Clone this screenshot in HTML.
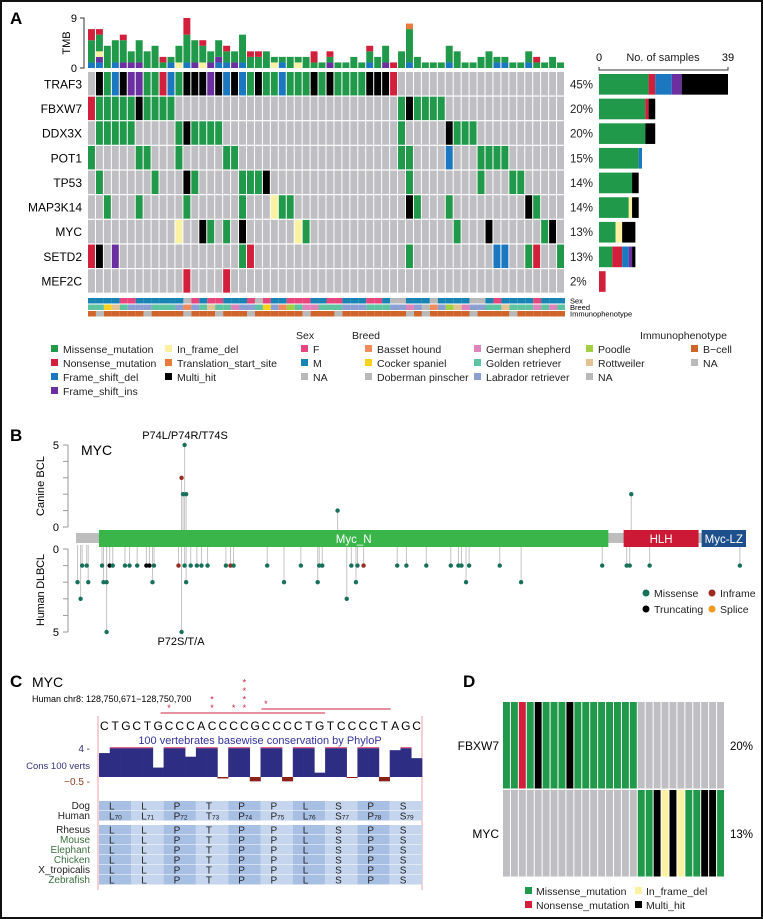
<!DOCTYPE html>
<html><head><meta charset="utf-8"><title>Canine BCL mutations</title>
<style>
html,body{margin:0;padding:0;background:#fff;}
svg{display:block;font-family:"Liberation Sans",Arial,sans-serif;}
</style></head>
<body>
<svg id="fig" width="763" height="919" viewBox="0 0 763 919">
<rect x="1" y="1" width="761" height="917" fill="#fff" stroke="#111" stroke-width="2"/>
<g id="pA">
<text x="10" y="24" font-size="17" font-weight="bold">A</text>
<text x="70" y="43" font-size="11" transform="rotate(-90 70 43)" text-anchor="middle">TMB</text>
<text x="98" y="0" font-size="0"></text>
<text x="663" y="61" font-size="11" text-anchor="middle" fill="#222">No. of samples</text>
</g>
<g id="pB">
<text x="10" y="441" font-size="17" font-weight="bold">B</text>
<text x="81" y="455" font-size="14">MYC</text>
<text x="185" y="439" font-size="11" text-anchor="middle">P74L/P74R/T74S</text>
<text x="181" y="645" font-size="11" text-anchor="middle">P72S/T/A</text>
<text x="44" y="486" font-size="11" text-anchor="middle" transform="rotate(-90 44 486)" textLength="60">Canine BCL</text>
<text x="44" y="590" font-size="11" text-anchor="middle" transform="rotate(-90 44 590)" textLength="72">Human DLBCL</text>
</g>
<g id="pC">
<text x="10" y="687" font-size="17" font-weight="bold">C</text>
<text x="32" y="687" font-size="14">MYC</text>
<text x="32" y="702" font-size="9">Human chr8: 128,750,671−128,750,700</text>
<text x="260" y="744" font-size="11" fill="#33339a" text-anchor="middle">100 vertebrates basewise conservation by PhyloP</text>
<text x="90" y="752" font-size="10" fill="#33337a" text-anchor="end">4 -</text>
<text x="90" y="769" font-size="9.5" fill="#33337a" text-anchor="end">Cons 100 verts</text>
<text x="90" y="785" font-size="10" fill="#8a4020" text-anchor="end">−0.5 -</text>
</g>
<g id="pD">
<text x="463" y="687" font-size="17" font-weight="bold">D</text>
</g>
</svg>
<script>
// ---------- Panel A data ----------
const genes = ["TRAF3","FBXW7","DDX3X","POT1","TP53","MAP3K14","MYC","SETD2","MEF2C"];
const genePct = ["45%","20%","20%","15%","14%","14%","13%","13%","2%"];
const geneAlts = [
 "0x 1x 2m 3d 4x 5i 6i 7m 8m 9n 10d 11m 12x 13x 14x 15i 16x 17d 18x 19d 20m 21x 22m 23m 24d 25m 26m 27m 28x 29m 30x 31m 32m 33m 34m 35x 36x 37x 38n",
 "0n 1m 2m 3m 4m 5m 6x 7m 8m 9m 10m 39m 40x 41m 42m 43m 44m",
 "0x 1m 2m 3m 4m 5m 11m 12x 13m 14m 15m 16m 39m 45x 46m 47m 48m",
 "0m 6m 7m 11m 17m 18m 39m 40m 45d 49m 50m 51m 52m",
 "1m 8m 12x 13m 19m 20m 21m 22x 40m 49m 53m 54m",
 "2m 6m 12m 19m 23f 24m 25m 40x 41m 45m 55x 56m",
 "11f 14x 15m 17m 19x 26f 27m 46m 50x 57m 58x",
 "0n 1x 3i 19m 20n 40m 51d 52d 55m 56n 59m",
 "12n 17n"
];
const tmbCols = ["dmmmmnn","difmmmn","mmmm","dmmmm","immmmn","imm","immmm","mmm","mmmm","mn","dm","fmmm","dmmmmmnnn","immmm","fmmmn","imm","dimmm","dmmn","imm","dmmmmm","mmn","mmn","mmm","fm","dm","mm","fm","mm","mnn","m","imn","m","m","mm","m","dmmn","mm","immm","n","mmm","dmmmmmmt","mm","m","m","m","dmmm","mmm","m","m","mm","mmm","dm","dm","m","m","dmm","mn","m","mm","m"];
const sexRow   = "MMMMFFMMMMMMNFMFFMMMFNFMMFFFMMFFMMMFFMNNMMMNMMMMNNMFMMMMFMMM";
const breedRow = "RRCTRLLLRRRLBLRTRRGLLRCLBPRGGRRRLLLRRRLLGLNBLPTGLLRRTRRRGRGR";
const immRow   = "BNBBBBBNBBBBNBBBNBBBNBBBBBBNBBBNBBBBBBBBNBNBBBBBNBBBBNBBBBBB";
const tmbTicks = [0,9];
const barTicks = [0,39];

// ---------- Panel B data ----------
const protLen = 439;
const domNames = ["Myc_N","HLH","Myc-LZ"];
const domStart = [16,359,410];
const domEnd = [349,408,439];
const canPos = [72,70,71,73,172,364];
const canVal = [5,3,2,2,1,2];
const canType = ["M","I","M","M","M","M"];
const humPos = [5,8,18,23,25,33,36,41,47,49,52,68,72,76,80,83,87,99,102,104,126,148,160,162,181,185,189,211,217,230,246,251,253,258,278,345,361,363,376,435,
 2,9,19,21,51,73,137,159,184,256,292, 4,178, 21,70];
const humVal = [1,1,1,1,1,1,1,1,1,1,1,1,1,1,1,1,1,1,1,1,1,1,1,1,1,1,1,1,1,1,1,1,1,1,1,1,1,1,1,1,
 2,2,2,2,2,2,2,2,2,2,2, 3,3, 5,5];
const humType = ["M","M","M","T","M","M","M","M","T","T","M","I","M","M","M","M","M","M","I","M","M","M","M","M","M","M","I","M","M","M","M","M","M","M","M","M","M","M","M","M",
 "M","M","M","M","M","M","M","M","M","M","M", "M","M", "M","M"];
const canTicks = [0,1,2,3,4,5];
const humTicks = [0,1,2,3,4,5];

// ---------- Panel C data ----------
const seq = "CTGCTGCCCACCCCGCCCCTGTCCCCTAGC";
const phylop = [3.3,4,4,4,4,1.3,4,4,2.8,4,4,-0.2,4,4,-0.6,4,4,-0.6,4,4,0.6,4,4,-0.1,4,4,-0.6,3.7,4,2.6];
const starBase = [6,10,12,13];
const starCount = [1,2,1,4];
const star2Base = [15];
const star2Count = [1];
const dogAA = ["L","L","P","T","P","P","L","S","P","S"];
const humAA = ["L","L","P","T","P","P","L","S","P","S"];
const humNum = [70,71,72,73,74,75,76,77,78,79];
const species = ["Rhesus","Mouse","Elephant","Chicken","X_tropicalis","Zebrafish"];

// ---------- Panel D data ----------
const dGenes = ["FBXW7","MYC"];
const dPct = ["20%","13%"];
const dAlts = ["mmnmxmmmxmmmmmmmm...........", ".................mmxfxfmmxxm"];

// ---------- helpers ----------
const NS="http://www.w3.org/2000/svg";
const svg=document.getElementById('fig');
function mk(tag,at,parent){const e=document.createElementNS(NS,tag);for(const k in at)e.setAttribute(k,at[k]);(parent||svg).appendChild(e);return e;}
function tx(str,at,parent){const e=mk('text',at,parent);e.textContent=str;return e;}
const COL={m:"#21994a",n:"#d11f3c",d:"#1a77c0",i:"#6c2fa0",f:"#faf2a2",t:"#ea7a3a",x:"#000000"};
const GRAY="#bfbfc3";
const SEX={M:"#1884b4",F:"#e6467c",N:"#b9b9b9"};
const BREED={B:"#f08c5c",C:"#f7d21e",D:"#b9b9b9",G:"#df84bb",R:"#5ec3a1",L:"#8b9fd2",P:"#a3cf43",T:"#e2c295",N:"#b9b9b9"};
const IMM={B:"#d0652b",N:"#b9b9b9"};

// ---------- Panel A ----------
const gA=document.getElementById('pA');
const nCol=60, x0=88, cw=(565-88)/nCol, y0=72, rh=24.65;
const colX=c=>x0+c*cw;
const rowY=r=>y0+r*rh;
const tmbBase=68, tmbUnit=50/9;
const tmbY=v=>tmbBase-v*tmbUnit;
// TMB axis
const tax=mk('path',{d:`M80 ${tmbY(9)} H84 V${tmbY(0)} H80`,stroke:"#333",fill:"none","stroke-width":1},gA);


tmbTicks.forEach(t=>{const e=tx(String(t),{x:77,y:tmbY(t)+4,"font-size":11,"text-anchor":"end"},gA);

});
const order="difmnt";
tmbCols.forEach((s,c)=>{let h=0;
 for(const k of order){const n=[...s].filter(ch=>ch===k).length;if(!n)continue;
  const r=mk('rect',{x:colX(c),y:tmbY(h+n),width:cw-1,height:n*tmbUnit,fill:COL[k]},gA);
  
  
  h+=n;}
});
// matrix
const barX0=599, barScale=129/39;
const bx=v=>barX0+v*barScale;
genes.forEach((g,r)=>{
 const alt={};geneAlts[r].split(' ').forEach(p=>{alt[parseInt(p)]=p.slice(-1);});
 const lab=tx(g,{x:82,y:rowY(r)+rh/2+4,"font-size":12,"text-anchor":"end"},gA);
 
 
 for(let c=0;c<nCol;c++){
  const cell=mk('rect',{x:colX(c),y:rowY(r),width:cw-1,height:rh-1.2,fill:alt[c]?COL[alt[c]]:GRAY},gA);
  
  
 }
 const pct=tx(genePct[r],{x:570,y:rowY(r)+rh/2+4,"font-size":11.5,fill:"#222"},gA);
 
 
 let acc=0;
 for(const k of "mnfdix"){const n=Object.values(alt).filter(v=>v===k).length;if(!n)continue;
  const b=mk('rect',{x:bx(acc),y:rowY(r)+2,width:n*barScale,height:rh-4,fill:COL[k]},gA);
  
  
  acc+=n;}
});
const bax=mk('path',{d:`M${bx(0)} 67 V70 H${bx(39)} V67`,stroke:"#333",fill:"none"},gA);


barTicks.forEach(t=>{const e=tx(String(t),{x:bx(t),y:61,"font-size":11,"text-anchor":"middle"},gA);

});
// annotation tracks
[[sexRow,SEX,298,"Sex"],[breedRow,BREED,304.5,"Breed"],[immRow,IMM,311,"Immunophenotype"]].forEach(([row,pal,y,name])=>{
 for(let c=0;c<nCol;c++){const a=mk('rect',{x:colX(c),y:y,width:cw,height:5.5,fill:pal[row[c]]},gA);
  
  }
 const l=tx(name,{x:570,y:y+5.5,"font-size":7.5},gA);
 
 
});
// legend
const legItems=[
 [51,353,COL.m,"Missense_mutation"],[51,367,COL.n,"Nonsense_mutation"],[51,381,COL.d,"Frame_shift_del"],[51,395,COL.i,"Frame_shift_ins"],
 [165,353,COL.f,"In_frame_del"],[165,367,COL.t,"Translation_start_site"],[165,381,COL.x,"Multi_hit"],
 [301,353,SEX.F,"F"],[301,367,SEX.M,"M"],[301,381,SEX.N,"NA"],
 [365,353,BREED.B,"Basset hound"],[365,367,BREED.C,"Cocker spaniel"],[365,381,BREED.D,"Doberman pinscher"],
 [474,353,BREED.G,"German shepherd"],[474,367,BREED.R,"Golden retriever"],[474,381,BREED.L,"Labrador retriever"],
 [586,353,BREED.P,"Poodle"],[586,367,BREED.T,"Rottweiler"],[586,381,BREED.N,"NA"],
 [691,353,IMM.B,"B−cell"],[691,367,IMM.N,"NA"]];
legItems.forEach(([x,y,c,s])=>{
 const sq=mk('rect',{x:x,y:y-8,width:7,height:7,fill:c},gA);
 
 
 const t=tx(s,{x:x+12,y:y,"font-size":10.5,fill:"#222"},gA);
 
 
});
[[296,"Sex"],[352,"Breed"],[640,"Immunophenotype"]].forEach(([x,s])=>{
 const t=tx(s,{x:x,y:339,"font-size":10.5,fill:"#222"},gA);
 
 
});

// ---------- Panel B ----------
const gB=document.getElementById('pB');
const aaX=a=>76+(a-1)*(746-76)/(protLen-1);
const canY=v=>527-v*16.4;
const humY=v=>549+v*16.6;
const PT={M:"#17705a",I:"#9a2d1f",T:"#000",S:"#f09a20"};
// axes
const ca=mk('path',{d:`M68 ${canY(5)} V${canY(0)}`,stroke:"#999",fill:"none"},gB);


canTicks.forEach(t=>{const k=mk('line',{x1:63,x2:68,y1:canY(t),y2:canY(t),stroke:"#999"},gB);
 
 
 if(t===0||t===5){const l=tx(String(t),{x:59,y:canY(t)+4,"font-size":11,"text-anchor":"end"},gB);
 
 }});
const ha=mk('path',{d:`M68 ${humY(0)} V${humY(5)}`,stroke:"#999",fill:"none"},gB);


humTicks.forEach(t=>{const k=mk('line',{x1:63,x2:68,y1:humY(t),y2:humY(t),stroke:"#999"},gB);
 
 
 if(t===0||t===5){const l=tx(String(t),{x:59,y:humY(t)+4,"font-size":11,"text-anchor":"end"},gB);
 
 }});
// sticks first
canPos.forEach((p,i)=>{const s=mk('line',{x1:aaX(p),x2:aaX(p),y1:533,y2:canY(canVal[i]),stroke:"#c4c4c4","stroke-width":1},gB);
 
 });
humPos.forEach((p,i)=>{const s=mk('line',{x1:aaX(p),x2:aaX(p),y1:545,y2:humY(humVal[i]),stroke:"#c4c4c4","stroke-width":1},gB);
 
 });
// protein backbone & domains
const bb=mk('rect',{x:aaX(1),y:533,width:aaX(protLen)-aaX(1),height:10,fill:"#bdbdbd"},gB);


const DC=["#3ab54a","#cc1a36","#1d4f8c"];
domNames.forEach((n,i)=>{
 const r=mk('rect',{x:aaX(domStart[i]),y:530,width:aaX(domEnd[i])-aaX(domStart[i]),height:17,fill:DC[i]},gB);
 
 
 const t=tx(n,{x:(aaX(domStart[i])+aaX(domEnd[i]))/2,y:543,"font-size":11.5,fill:"#fff","text-anchor":"middle"},gB);
 
 
});
canPos.forEach((p,i)=>{const d=mk('circle',{cx:aaX(p),cy:canY(canVal[i]),r:2.2,fill:PT[canType[i]]},gB);
 
 });
humPos.forEach((p,i)=>{const d=mk('circle',{cx:aaX(p),cy:humY(humVal[i]),r:2.2,fill:PT[humType[i]]},gB);
 
 });
[[646,593,"M","Missense"],[712,593,"I","Inframe"],[646,609,"T","Truncating"],[712,609,"S","Splice"]].forEach(([x,y,k,s])=>{
 const d=mk('circle',{cx:x,cy:y,r:3.5,fill:PT[k]},gB);
 
 
 const t=tx(s,{x:x+8,y:y+4,"font-size":10.5,fill:"#222"},gB);
 
 
});

// ---------- Panel C ----------
const gC=document.getElementById('pC');
const cx0=99, cx1=422, bw=(cx1-cx0)/seq.length;
const baseX=i=>cx0+i*bw;
const pz=777, pUnit=29/4;
const pY=v=>pz-v*pUnit;
[cx0-1,cx1].forEach(x=>{const l=mk('line',{x1:x,x2:x,y1:716,y2:890,stroke:"#f0a0a8","stroke-width":1},gC);
 
 });
[...seq].forEach((b,i)=>{const t=tx(b,{x:baseX(i)+bw/2,y:730,"font-size":12,"text-anchor":"middle"},gC);
 
 });
phylop.forEach((v,i)=>{
 const top=v>=0?pY(v):pz, h=Math.abs(v)*pUnit;
 const r=mk('rect',{x:baseX(i),y:top,width:bw+0.3,height:Math.max(h,1),fill:v>=0?"#2d2d84":"#8e1f1f"},gC);
 
 
 if(v>=3.9){const c=mk('rect',{x:baseX(i),y:pY(v)-1,width:bw+0.3,height:1.3,fill:"#e06a8a"},gC);
 
 }
});
const l1=mk('line',{x1:baseX(starBase[0])-3,x2:baseX(21),y1:713,y2:713,stroke:"#cc2040","stroke-width":1},gC);


const l2=mk('line',{x1:baseX(star2Base[0])+1,x2:baseX(27)+1,y1:709,y2:709,stroke:"#cc2040","stroke-width":1},gC);


function stars(bases,counts,yb){bases.forEach((b,i)=>{for(let k=0;k<counts[i];k++){
 const s=tx("*",{x:baseX(b)+bw/2,y:yb-k*8.5,"font-size":9,fill:"#cc2040","text-anchor":"middle"},gC);
 
 }});}
stars(starBase,starCount,711);
stars(star2Base,star2Count,707);
// alignment
const codW=(cx1-cx0)/10;
function alignRow(y,aas,nums,label,lc){
 const lt=tx(label,{x:90,y:y+8,"font-size":10,fill:lc,"text-anchor":"end"},gC);
 
 
 aas.forEach((a,i)=>{
  const r=mk('rect',{x:cx0+i*codW,y:y,width:codW,height:9.5,fill:i%2?"#c6d5ee":"#a8bfe4"},gC);
  
  
  const t=tx(a,{x:cx0+i*codW+10,y:y+8.5,"font-size":10,fill:"#222"},gC);
  
  
  if(nums){const s=mk('tspan',{"font-size":6.5},t);s.textContent=nums[i];}
 });
}
alignRow(801,dogAA,null,"Dog","#222");
alignRow(811,humAA,humNum,"Human","#222");
species.forEach((sp,j)=>alignRow(825+j*10,humAA,null,sp,["Mouse","Elephant","Chicken","Zebrafish"].includes(sp)?"#3c7040":"#222"));

// ---------- Panel D ----------
const gD=document.getElementById('pD');
const dx0=503, dcw=(725-503)/28, dy0=702, drh=88;
dGenes.forEach((g,r)=>{
 const l=tx(g,{x:499,y:dy0+r*drh+drh/2+4,"font-size":12,"text-anchor":"end"},gD);
 
 
 [...dAlts[r]].forEach((k,c)=>{
  const cell=mk('rect',{x:dx0+c*dcw,y:dy0+r*drh,width:dcw-1,height:drh-1.5,fill:k==='.'?GRAY:COL[k]},gD);
  
  
 });
 const p=tx(dPct[r],{x:730,y:dy0+r*drh+drh/2+4,"font-size":11.5},gD);
 
 
});
[[525,895,COL.m,"Missense_mutation"],[525,909,COL.n,"Nonsense_mutation"],[635,895,COL.f,"In_frame_del"],[635,909,COL.x,"Multi_hit"]].forEach(([x,y,c,s])=>{
 const sq=mk('rect',{x:x,y:y-8,width:7,height:7,fill:c},gD);
 
 
 const t=tx(s,{x:x+11,y:y,"font-size":10.5,fill:"#222"},gD);
 
 
});
</script>
</body></html>
